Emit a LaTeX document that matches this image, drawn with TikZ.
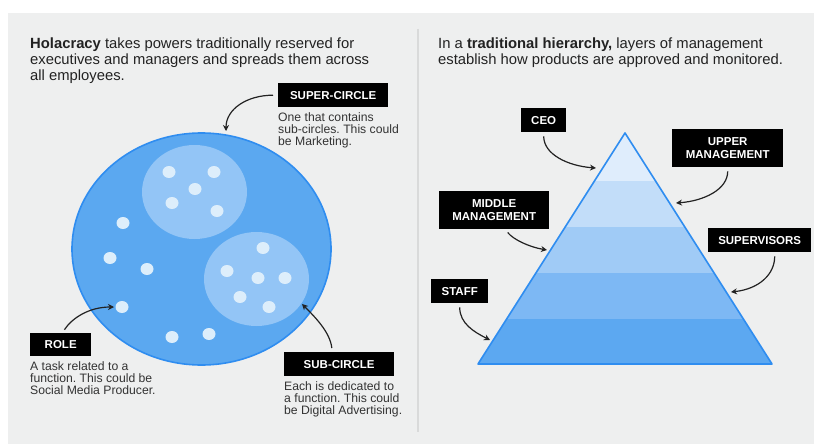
\documentclass[tikz,border=0pt]{standalone}
\usepackage{fontspec}
\setmainfont{Liberation Sans}
\usepackage{xcolor}
\usetikzlibrary{arrows.meta,positioning}
\frenchspacing

\definecolor{panelgray}{HTML}{EEEFEF}
\definecolor{rulegray}{HTML}{D9DADA}
\definecolor{headgray}{HTML}{222222}
\definecolor{notegray}{HTML}{333333}
\definecolor{bigblue}{HTML}{5BA8F0}
\definecolor{edgeblue}{HTML}{2F8DF0}
\definecolor{subblue}{HTML}{93C5F6}
\definecolor{dotblue}{HTML}{DDEEFB}
\definecolor{layerA}{HTML}{DFEDFC}
\definecolor{layerB}{HTML}{C2DDF9}
\definecolor{layerC}{HTML}{A0CBF6}
\definecolor{layerD}{HTML}{7DB8F4}
\definecolor{layerE}{HTML}{5CA8F1}

\begin{document}
\begin{tikzpicture}[x=1pt, y=-1pt,
    tag/.style={fill=black, text=white, anchor=north west, align=center, inner sep=0pt,
        minimum height=24pt, font=\bfseries\fontsize{11.5}{13}\selectfont},
    note/.style={anchor=north west, align=left, inner sep=0pt, text=notegray,
        font=\fontsize{12.2}{12}\selectfont},
    head/.style={anchor=north west, align=left, inner sep=0pt, text=headgray,
        font=\fontsize{14.8}{16}\selectfont},
    pointer/.style={-{Stealth[length=6pt,width=6pt]}, line width=1.2pt, draw=headgray,
        shorten <=4pt}]

    % Page and panel
    \fill[white] (0,0) rectangle (814,444);
    \fill[panelgray] (8,13) rectangle (814,444);
    \draw[rulegray, line width=1.5pt] (418,29) -- (418,432);

    % Holacracy side
    \node[head] (holaHead) at (30,38) {\textbf{Holacracy} takes powers traditionally reserved for\\
        executives and managers and spreads them across\\all employees.};

    \fill[bigblue] (201.5,249) ellipse (129.5 and 116);
    \draw[edgeblue, line width=1.6pt] (201.5,249) ellipse (129.5 and 116);
    \fill[subblue] (194.5,192) ellipse (52.5 and 47);
    \fill[subblue] (256.5,279) ellipse (52.5 and 47);

    % Roles inside the first sub-circle
    \fill[dotblue] (169,172) ellipse (6.5 and 6) (214,172) ellipse (6.5 and 6)
        (195,189) ellipse (6.5 and 6) (172,203) ellipse (6.5 and 6) (217,211) ellipse (6.5 and 6);
    % Roles inside the second sub-circle
    \fill[dotblue] (263,248) ellipse (6.5 and 6) (227,271) ellipse (6.5 and 6)
        (258,278) ellipse (6.5 and 6) (285,278) ellipse (6.5 and 6)
        (240,297) ellipse (6.5 and 6) (269,307) ellipse (6.5 and 6);
    % Roles of the super-circle itself
    \fill[dotblue] (123,223) ellipse (6.5 and 6) (110,258) ellipse (6.5 and 6)
        (147,269) ellipse (6.5 and 6) (122,307) ellipse (6.5 and 6)
        (172,337) ellipse (6.5 and 6) (209,334) ellipse (6.5 and 6);

    \node[tag, minimum width=110pt] (superCircle) at (278,83) {SUPER-CIRCLE};
    \node[note, below=5pt of superCircle.south west, anchor=north west] (superNote)
        {One that contains\\sub-circles. This could\\be Marketing.};
    \node[tag, minimum width=61pt, minimum height=23pt] (role) at (30,333) {ROLE};
    \node[note, below=5pt of role.south west, anchor=north west] (roleNote)
        {A task related to a\\function. This could be\\Social Media Producer.};
    \node[tag, minimum width=110pt] (subCircle) at (284,352) {SUB-CIRCLE};
    \node[note, below=5pt of subCircle.south west, anchor=north west] (subNote)
        {Each is dedicated to\\a function. This could\\be Digital Advertising.};

    \coordinate (superTip) at (226,131);
    \coordinate (roleTip) at (114,307);
    \coordinate (subTip) at (302,304);
    \draw[pointer] ([xshift=-1pt]superCircle.west) .. controls +(-30,0) and +(0,-22) .. (superTip);
    \draw[pointer] ([xshift=1.5pt]role.north) .. controls +(10,-15) and +(-25,0) .. (roleTip);
    \draw[pointer] ([xshift=-7pt]subCircle.north) .. controls +(-2,-20) and +(12,12) .. (subTip);

    % Hierarchy side
    \node[head] (hierHead) at (438,38) {In a \textbf{traditional hierarchy,} layers of management\\
        establish how products are approved and monitored.};

    \coordinate (apex) at (625,133);
    \coordinate (baseL) at (478,364);
    \coordinate (baseR) at (772,364);
    \begin{scope}
        \clip (apex) -- (baseL) -- (baseR) -- cycle;
        \fill[layerA] (470,125) rectangle (780,181);
        \fill[layerB] (470,181) rectangle (780,227);
        \fill[layerC] (470,227) rectangle (780,273);
        \fill[layerD] (470,273) rectangle (780,319);
        \fill[layerE] (470,319) rectangle (780,370);
    \end{scope}
    \draw[edgeblue, line width=1.6pt, line join=round] (apex) -- (baseL) -- (baseR) -- cycle;

    \node[tag, minimum width=45pt] (ceo) at (521,108) {CEO};
    \node[tag, minimum width=111pt, minimum height=38pt] (upperMgmt) at (672,129) {UPPER\\MANAGEMENT};
    \node[tag, minimum width=110pt, minimum height=38pt] (middleMgmt) at (439,191) {MIDDLE\\MANAGEMENT};
    \node[tag, minimum width=103pt] (supervisors) at (708,228) {SUPERVISORS};
    \node[tag, minimum width=57pt] (staff) at (431,279) {STAFF};

    \coordinate (ceoTip) at (596,168);
    \coordinate (upperTip) at (676,203);
    \coordinate (middleTip) at (547,250);
    \coordinate (supTip) at (731,292);
    \coordinate (staffTip) at (490,340);
    \draw[pointer] (ceo.south) .. controls +(0,22) and +(-28,-2) .. (ceoTip);
    \draw[pointer] (upperMgmt.south) .. controls +(0,22) and +(28,-2) .. (upperTip);
    \draw[pointer] ([xshift=11pt]middleMgmt.south) .. controls +(8,10) and +(-18,-3) .. (middleTip);
    \draw[pointer] ([xshift=15pt]supervisors.south) .. controls +(0,22) and +(28,-3) .. (supTip);
    \draw[pointer] (staff.south) .. controls +(0,20) and +(-16,-8) .. (staffTip);
\end{tikzpicture}
\end{document}
